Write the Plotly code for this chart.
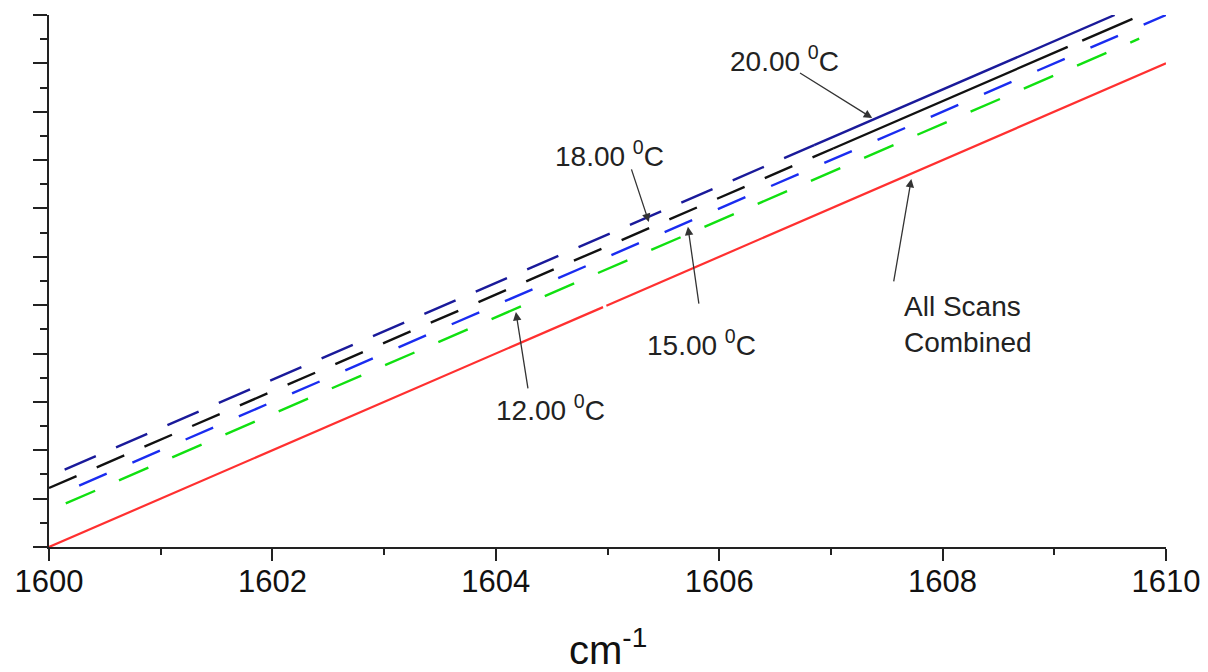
import plotly.graph_objects as go

# ---------------- data ----------------
# All Scans Combined (red, solid, tiny gap near 1605)
red_x = [1600.0, 1604.96, None, 1604.99, 1610.0]
red_y = [0.0, 4.96, None, 4.99, 10.0]

# 12.00 C (green, dashed)
green_x = [1600.15, 1609.76]
green_y = [0.90, 10.51]

# 15.00 C (blue, dashed)
blue_x = [1600.27, 1610.0]
blue_y = [1.27, 11.0]

# 18.00 C (black, dashed then nearly solid)
black_dash_x = [1600.0, 1607.02]
black_dash_y = [1.22, 8.24]
black_solid_x = [1607.02, 1609.12, None, 1609.25, 1609.70]
black_solid_y = [8.24, 10.34, None, 10.47, 10.92]

# 20.00 C (navy, long dashes then solid)
navy_dash_x = [1600.14, 1606.85]
navy_dash_y = [1.60, 8.31]
navy_solid_x = [1606.85, 1609.54]
navy_solid_y = [8.31, 11.0]

x_ticks = [1600, 1602, 1604, 1606, 1608, 1610]

# annotation labels: (text, x, y)
labels = [
    ("20.00 <sup>0</sup>C", 1606.08, 10.10),
    ("18.00 <sup>0</sup>C", 1604.51, 8.13),
    ("15.00 <sup>0</sup>C", 1605.34, 4.22),
    ("12.00 <sup>0</sup>C", 1603.98, 2.87),
    ("All Scans<br>Combined", 1607.64, 4.61),
]
# arrows: (head_x, head_y, tail_x, tail_y)
arrows = [
    (1607.37, 8.87, 1606.71, 9.82),
    (1605.37, 6.72, 1605.21, 7.84),
    (1605.72, 6.62, 1605.82, 5.00),
    (1604.18, 4.86, 1604.29, 3.25),
    (1607.72, 7.61, 1607.56, 5.46),
]

FONT = "Liberation Sans, Arial, sans-serif"

fig = go.Figure()
fig.add_trace(go.Scatter(x=red_x, y=red_y, mode="lines",
                         line=dict(color="#ff3030", width=2.2)))
fig.add_trace(go.Scatter(x=green_x, y=green_y, mode="lines",
                         line=dict(color="#10e010", width=2.4, dash="32px,26px")))
fig.add_trace(go.Scatter(x=blue_x, y=blue_y, mode="lines",
                         line=dict(color="#1a2cf0", width=2.4, dash="30px,28px")))
fig.add_trace(go.Scatter(x=black_dash_x, y=black_dash_y, mode="lines",
                         line=dict(color="#111111", width=2.4, dash="30px,22px")))
fig.add_trace(go.Scatter(x=black_solid_x, y=black_solid_y, mode="lines",
                         line=dict(color="#111111", width=2.4)))
fig.add_trace(go.Scatter(x=navy_dash_x, y=navy_dash_y, mode="lines",
                         line=dict(color="#1a1a9a", width=2.4, dash="34px,22px")))
fig.add_trace(go.Scatter(x=navy_solid_x, y=navy_solid_y, mode="lines",
                         line=dict(color="#1a1a9a", width=2.4)))

annos = []
for hx, hy, tx, ty in arrows:
    annos.append(dict(x=hx, y=hy, ax=tx, ay=ty, xref="x", yref="y",
                      axref="x", ayref="y", text="", showarrow=True,
                      arrowhead=2, arrowsize=1.3, arrowwidth=1.3,
                      arrowcolor="#333333"))
for txt, x, y in labels:
    annos.append(dict(x=x, y=y, xref="x", yref="y", text=txt, showarrow=False,
                      xanchor="left", yanchor="middle", align="left",
                      font=dict(family=FONT, size=28, color="#222222")))
annos.append(dict(x=0.5, y=-0.188, xref="paper", yref="paper",
                  text="cm<sup>-1</sup>", showarrow=False,
                  xanchor="center", yanchor="middle",
                  font=dict(family=FONT, size=40, color="#111111")))

fig.update_layout(
    width=1200, height=664,
    margin=dict(l=39, r=42, t=7, b=125),
    paper_bgcolor="white", plot_bgcolor="white",
    showlegend=False,
    annotations=annos,
    xaxis=dict(range=[1600, 1610], tickvals=x_ticks, ticktext=[str(v) for v in x_ticks],
               ticks="outside", ticklen=12, tickwidth=2, tickcolor="#222222",
               showline=True, linecolor="#222222", linewidth=2,
               showgrid=False, zeroline=False, ticklabelstandoff=-6,
               minor=dict(dtick=1, tick0=1600, ticks="outside", ticklen=6,
                          tickwidth=2, tickcolor="#222222"),
               tickfont=dict(family=FONT, size=31, color="#111111")),
    yaxis=dict(range=[0, 11], dtick=1, tick0=0, showticklabels=False,
               ticks="outside", ticklen=14, tickwidth=2, tickcolor="#222222",
               showline=True, linecolor="#222222", linewidth=2,
               showgrid=False, zeroline=False,
               minor=dict(dtick=0.5, tick0=0, ticks="outside", ticklen=7,
                          tickwidth=2, tickcolor="#222222")),
)

fig.write_html("out.html")
